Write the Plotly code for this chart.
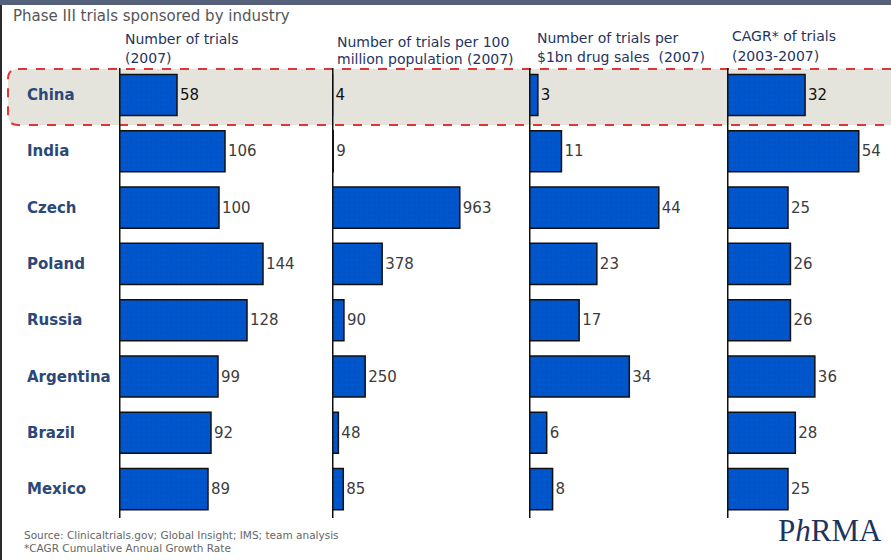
import plotly.graph_objects as go

# ---------------- data ----------------
countries = ["China", "India", "Czech", "Poland", "Russia", "Argentina", "Brazil", "Mexico"]
trials_2007 = [58, 106, 100, 144, 128, 99, 92, 89]
trials_per_100m_pop = [4, 9, 963, 378, 90, 250, 48, 85]
trials_per_1bn_sales = [3, 11, 44, 23, 17, 34, 6, 8]
cagr_2003_2007 = [32, 54, 25, 26, 26, 36, 28, 25]

title_text = "Phase III trials sponsored by industry"
header_lines = [
    ["Number of trials", "(2007)"],
    ["Number of trials per 100", "million population (2007)"],
    ["Number of trials per", "$1bn drug sales  (2007)"],
    ["CAGR* of trials", "(2003-2007)"],
]
footer_lines = [
    "Source: Clinicaltrials.gov; Global Insight; IMS; team analysis",
    "*CAGR Cumulative Annual Growth Rate",
]

series = [trials_2007, trials_per_100m_pop, trials_per_1bn_sales, cagr_2003_2007]

# ---------------- geometry ----------------
W, H = 891, 560


def px(x):
    return x / W


def py(y):
    return 1 - y / H


# (axis x pixel, pixels per unit, panel width px)
panels = [(119, 1.0, 200), (332, 0.1327, 190), (529, 2.95, 190), (727, 2.44, 164)]
header_pos = [(123, 39, 58), (335, 42, 59), (535, 38, 57), (730, 36, 56)]

row0, row_step = 95, 56.3
y_range = [(H - row0) / row_step, -row0 / row_step]

BAR_COLOR = "#0056cc"
TEXT_FONT = "DejaVu Sans"

fig = go.Figure()

for i, vals in enumerate(series):
    xa = "x" if i == 0 else f"x{i+1}"
    fig.add_trace(go.Bar(
        orientation="h",
        x=vals,
        y=countries,
        xaxis=xa,
        yaxis="y",
        width=0.73,
        text=[str(v) for v in vals],
        textposition="outside",
        constraintext="none",
        cliponaxis=False,
        textfont=dict(family=TEXT_FONT, size=15,
                      color=["#111111"] + ["#3c3c3c"] * (len(vals) - 1)),
        marker=dict(color=BAR_COLOR, line=dict(color="#101010", width=1.5),
                    pattern=dict(shape=".", fgcolor="#0a47a8", size=5, solidity=0.15)),
        showlegend=False,
        hoverinfo="skip",
    ))

layout_axes = {}
for i, (x0, scale, w) in enumerate(panels):
    key = "xaxis" if i == 0 else f"xaxis{i+1}"
    layout_axes[key] = dict(domain=[px(x0), min(1.0, px(x0 + w))], range=[0, w / scale],
                            visible=False, anchor="y", fixedrange=True)

shapes = []
# top band
shapes.append(dict(type="rect", xref="paper", yref="paper", x0=0, x1=1, y0=py(5), y1=1,
                   fillcolor="#55607a", line=dict(width=0), layer="above"))
# left border
shapes.append(dict(type="line", xref="paper", yref="paper", x0=px(1), x1=px(1), y0=0, y1=py(5),
                   line=dict(color="#2a2a2a", width=2)))

# China highlight: rounded dashed rectangle
xl, xr = px(8), px(900)
yt, yb = py(69), py(125)
rx, ry = px(10), 10 / H
path = (f"M {xl+rx},{yt} L {xr},{yt} L {xr},{yb} L {xl+rx},{yb} "
        f"Q {xl},{yb} {xl},{yb+ry} L {xl},{yt-ry} Q {xl},{yt} {xl+rx},{yt} Z")
shapes.append(dict(type="path", xref="paper", yref="paper", path=path,
                   fillcolor="#e5e4dc", line=dict(color="#e03535", width=2, dash="dash"),
                   layer="below"))

# vertical axis lines
for i in range(4):
    xr_ = "x" if i == 0 else f"x{i+1}"
    shapes.append(dict(type="line", xref=xr_, yref="paper", x0=0, x1=0,
                       y0=py(518), y1=py(68), line=dict(color="#111111", width=3),
                       layer="above"))

annotations = []
annotations.append(dict(text=title_text, xref="paper", yref="paper", x=px(11), y=py(16),
                        xanchor="left", yanchor="middle", showarrow=False,
                        font=dict(family=TEXT_FONT, size=15, color="#555555")))
for (hx, y1, y2), lines in zip(header_pos, header_lines):
    for yy, t in zip((y1, y2), lines):
        annotations.append(dict(text=t, xref="paper", yref="paper", x=px(hx), y=py(yy),
                                xanchor="left", yanchor="middle", showarrow=False,
                                font=dict(family=TEXT_FONT, size=14, color="#1f3460")))
for c in countries:
    annotations.append(dict(text=f"<b>{c}</b>", xref="paper", yref="y", x=px(25), y=c,
                            xanchor="left", yanchor="middle", showarrow=False,
                            font=dict(family=TEXT_FONT, size=15, color="#2b4878")))
for yy, t in zip((535, 548), footer_lines):
    annotations.append(dict(text=t, xref="paper", yref="paper", x=px(22), y=py(yy),
                            xanchor="left", yanchor="middle", showarrow=False,
                            font=dict(family=TEXT_FONT, size=10.5, color="#666666")))
annotations.append(dict(text="P<i>h</i>RMA", xref="paper", yref="paper", x=px(776), y=py(530),
                        xanchor="left", yanchor="middle", showarrow=False,
                        font=dict(family="Liberation Serif", size=31, color="#1d3461")))

fig.update_layout(
    width=W, height=H, autosize=False,
    margin=dict(l=0, r=0, t=0, b=0, pad=0),
    paper_bgcolor="white", plot_bgcolor="rgba(0,0,0,0)",
    barmode="group",
    yaxis=dict(type="category", categoryorder="array", categoryarray=countries,
               range=y_range, visible=False, domain=[0, 1], anchor="x", fixedrange=True),
    shapes=shapes,
    annotations=annotations,
    **layout_axes,
)

fig.write_html("out.html", config={"displayModeBar": False},
               post_script="document.body.style.margin='0px';")
